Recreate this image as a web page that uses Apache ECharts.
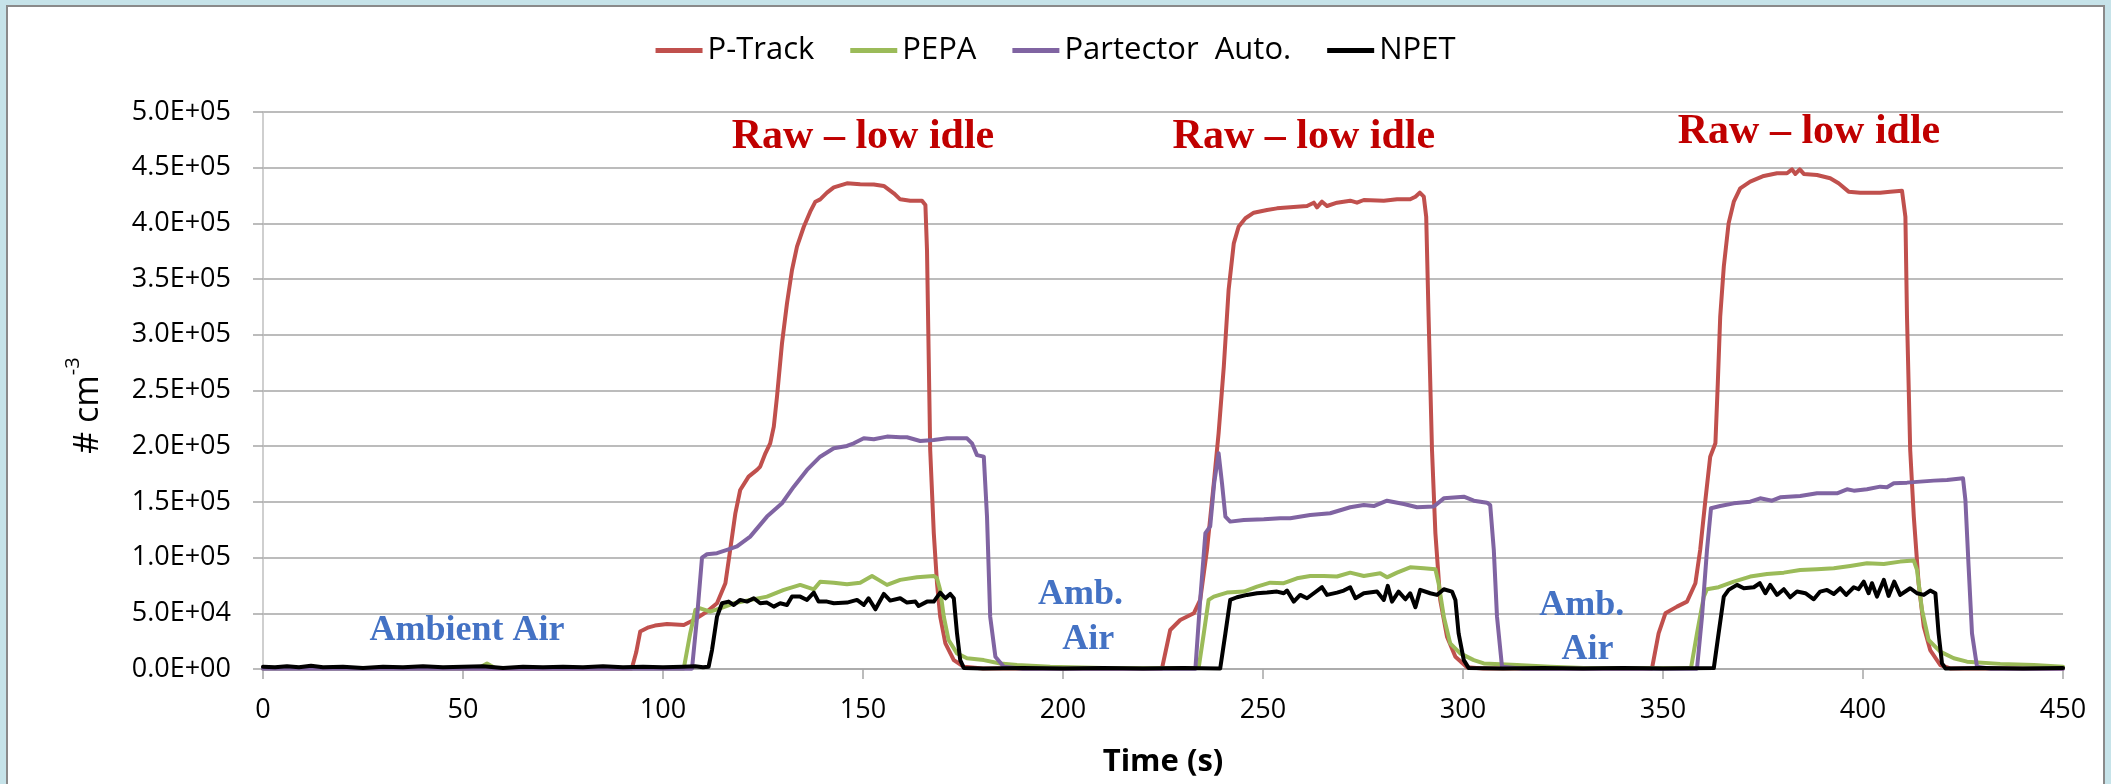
<!DOCTYPE html>
<html>
<head>
<meta charset="utf-8">
<script src="https://cdn.jsdelivr.net/npm/echarts@6/dist/echarts.min.js"></script>
<style>
html,body{margin:0;padding:0;background:#c6e3e9;}
#chart{width:2111px;height:784px;}
</style>
</head>
<body>
<div id="chart"></div>
<script>
// ---- data (time in s, concentration in thousands of # cm^-3) ----
const X_TICKS = [0, 50, 100, 150, 200, 250, 300, 350, 400, 450];
const SERIES_NAMES = ['P-Track', 'PEPA', 'Partector  Auto.', 'NPET'];

const P_TRACK = [[0,1],[30,1],[60,0.5],[92.2,0.5],[93.3,15],[94.3,33.6],[96.4,37.4],[98,39],[101,40.4],[105.2,39.5],[107.7,44],[111,51.5],[113.5,59],[115.6,77],[116.8,107],[118.1,140],[119.3,160.7],[121.4,172.7],[123.5,178.7],[124.3,181.7],[125.6,193.6],[126.8,202.6],[127.7,217.6],[128.5,244.5],[129.75,292.4],[131,328.3],[132.25,358.2],[133.5,379.1],[135.2,397],[136.8,410.5],[138.1,419.5],[139.3,421.6],[141,427.6],[142.7,432.4],[146,436],[149.3,435.1],[152.7,435],[155.2,433.6],[157.7,427],[159.3,421.6],[161.8,420.4],[164.75,420.4],[165.6,416.5],[166,376],[166.4,286.4],[166.8,196.6],[167.7,121.8],[168.5,77],[169.3,47],[170.6,23],[172.7,8],[175.2,2],[180,0.5],[224.75,0.5],[226.8,35],[229.3,44],[232.7,50],[234.3,62],[236,107],[237.7,166.7],[238.9,211.6],[240.2,271.4],[241.4,340.2],[242.7,382.1],[243.9,397],[245.6,404.6],[247.7,409.6],[251,412],[253.5,413.5],[256.8,414.4],[261,415.6],[262.7,418.6],[263.5,414.4],[264.75,419.5],[266,415.6],[268.5,418.6],[271.8,420.4],[273.5,418.6],[275.2,421],[280.2,420.4],[283.5,421.6],[286.8,421.6],[288.1,424],[289.2,427.6],[290.2,424],[290.8,406],[291.4,316],[292.25,196.6],[293.1,121.8],[294.3,62],[296,29],[298.1,11],[301,1.5],[305,0.5],[347.25,0.5],[348.9,32],[350.6,50],[353.5,56],[356,60.5],[358.1,77],[359.3,107],[360.6,151.7],[361.8,190.6],[363.1,202.6],[363.7,256.5],[364.3,316],[365.2,361.2],[366.4,400],[367.7,419.5],[369.3,431.5],[371.8,437.5],[375.2,442.6],[378.5,445],[381,445],[382.25,448.5],[383.1,444.4],[384.2,448.5],[385.2,444.4],[388.5,443.5],[391.8,440.5],[393.9,436],[396.4,428.5],[399.3,427.6],[404.3,427.6],[406.8,428.5],[409.75,429.4],[410.6,406],[411,316],[411.8,196.6],[412.7,136.8],[413.9,77],[415.2,38],[416.8,17],[419.3,3.6],[421.8,0.5],[450,0.5]];

const PEPA = [[0,0.5],[50,0.5],[54,1],[56,5],[58,1],[105.2,0.5],[106.8,32],[108.1,53],[109.3,54.5],[111.8,51.5],[114.3,54.5],[117.7,59],[121.8,62],[126,65],[130.2,71],[134.3,75.5],[137.7,71.5],[139.3,78.4],[142.7,77.5],[146,76],[149.3,77.5],[152.25,83.5],[153.9,80],[156,75.5],[159.3,80],[163.5,82.3],[167.7,83.5],[168.5,81.5],[169.3,71],[170.2,47],[171.4,26],[173.5,14],[176,9.6],[180.2,8],[184.3,5],[188.5,3.6],[196.8,2],[210,1],[233.9,0.8],[235.2,32],[236.4,62],[237.7,65],[241,68.6],[245.2,69.5],[248.5,74],[251.8,77.5],[255.2,77],[258.5,81.4],[261.8,83.5],[265.2,83.5],[268.5,83],[271.8,86.5],[275.2,83.5],[279.3,85.9],[281,82.3],[283.5,86.5],[286.8,91.3],[290.2,90.4],[293.1,89.5],[293.9,77],[295.2,47],[296.8,23],[299.3,14],[302.7,8],[305.2,5],[313.5,3.6],[321.8,2],[330.2,1],[357,0.8],[358.5,32],[360.2,65],[361,71.6],[363.9,73.4],[367.7,78.4],[371.8,83],[376,85.3],[380.2,86.5],[384.3,88.9],[388.5,89.5],[392.7,90.4],[396.8,92.5],[401,94.9],[405.2,94.3],[409.3,96.4],[412.7,97.3],[413.5,88.9],[414.75,53],[416.4,26],[419.3,15.6],[422.7,9.6],[426,6.6],[434.3,4.6],[442.7,3.6],[450,2]];

const PARTECTOR = [[0,0.3],[107.25,0.3],[108.5,46],[109.75,100],[111,103],[113.5,104],[116,107],[118.5,110],[121.8,118.8],[126,136.8],[129.75,148.8],[132.7,163.7],[136,178.7],[139.3,190.6],[142.7,198.1],[146,200.2],[147.7,202.6],[150.2,207.1],[152.7,206.2],[156,208.6],[159.3,208],[161,208],[164.3,204.7],[167.7,205.6],[171,207.1],[176,207.1],[177.25,202.6],[178.5,192],[180.2,190.6],[181,137],[181.8,47],[183.1,11],[185.2,2],[190,0.3],[233.1,0.3],[234.3,62],[235.6,122],[236.8,128],[237.8,167],[238.9,193.6],[239.75,166.7],[240.6,136.8],[241.8,132.3],[245.2,133.8],[250.2,134.4],[254.3,135.3],[256.8,135.3],[261.8,138.3],[266.8,139.8],[271.8,145.2],[275.2,147.2],[277.7,146.3],[281,151.1],[285.2,148.1],[288.5,145.2],[292.7,145.8],[295.2,153.2],[300.2,154.7],[302.7,151.1],[306,149.3],[306.8,147.2],[307.7,107],[308.5,47],[309.75,2],[315,0.3],[358.5,0.3],[359.75,47],[361,107],[362,144.3],[364.3,146.3],[367.7,148.7],[371.8,150.2],[374.3,153.2],[377.25,151.1],[379.3,154.1],[384.3,155.3],[388.5,157.7],[393.5,157.7],[396,161.3],[397.7,160.1],[401,161.3],[404.3,163.7],[406,163.1],[407.7,166.7],[411,167.3],[414.3,168.2],[417.7,169.1],[421,169.7],[422.7,170.3],[425,171.2],[425.6,151.7],[426.4,92],[427.25,32],[428.5,2],[432,0.3],[450,0.3]];

const NPET = [[0,2],[3,1.5],[6,2.5],[9,1.5],[12,3],[15,1.5],[20,2],[25,1],[30,2],[35,1.5],[40,2.5],[45,1.5],[50,2],[55,2.5],[60,1],[65,2],[70,1.5],[75,2],[80,1.5],[85,2.5],[90,1.5],[95,2],[100,1.5],[105,2],[108,2.5],[110,1.5],[111.4,2],[112.25,17],[113.5,47],[114.75,59],[116.4,60.5],[117.7,57.5],[119.3,62],[121,60.5],[122.7,63.5],[124.3,59],[126,59.6],[127.7,56],[129.3,59],[131,57.5],[132.25,65],[134.3,65],[136,62],[137.7,68.6],[138.9,60.5],[141,60.5],[142.7,59],[146,59.6],[148.5,62],[150.2,57.5],[151.4,63.5],[153.1,53.6],[155.2,67.4],[156.8,61.4],[159.3,63.5],[161,59.6],[163.1,60.5],[163.9,56.6],[166,60.5],[167.7,60.5],[169.3,68.6],[170.6,63.5],[171.8,67.4],[172.7,63.5],[173.5,32],[174.3,8],[175.2,1],[180,0.5],[190,1],[200,0.5],[210,1],[220,0.5],[230,1],[239.3,0.5],[240.6,32],[241.8,62],[243.5,64.4],[246,66.5],[248.5,68],[251,68.6],[253.5,69.5],[255.2,68],[256,70.4],[257.7,60.5],[259.3,66.5],[261,63.5],[262.7,68],[264.75,73.4],[266,66.5],[268.5,68.6],[270.2,70.4],[271.8,73.4],[273.1,63.5],[275.2,68],[278.5,69.5],[280.2,62],[281.2,74.6],[282.25,60.5],[283.9,69.5],[285.6,62.6],[286.8,68],[288.1,55.4],[289.3,71],[291.8,68],[293.5,66.5],[295.2,71.6],[297.25,69.5],[298.1,62],[298.9,32],[300.2,8],[301.4,1],[310,0.5],[320,1],[330,0.5],[340,1],[350,0.5],[362.7,0.8],[363.9,32],[365.2,65],[366.4,71],[368.5,75.5],[370.2,72.5],[372.7,73.4],[374.2,77],[375.6,68],[376.8,75.5],[378.5,66.5],[380.2,71.6],[381.8,64.4],[383.5,69.5],[385.6,68],[387.7,62.6],[389.3,69.5],[391,71],[392.7,67.4],[394.3,72.5],[395.8,66.5],[397.7,73.4],[398.9,71.6],[400.2,78.4],[401.4,68],[402.25,77],[403.5,65],[405.2,80],[406.4,65.6],[407.8,78.4],[409.3,66.5],[411.8,72.5],[413.5,68],[415.2,66.5],[416.8,70.4],[418.1,68],[418.9,32],[419.75,5],[420.6,0.5],[430,1],[440,0.5],[450,1]];

// annotations: [text, time (s), value (thousands), kind]
const ANNOTATIONS = [
  ['Raw – low idle', 150, 477, 'raw'],
  ['Raw – low idle', 260.2, 477, 'raw'],
  ['Raw – low idle', 386.5, 481.6, 'raw'],
  ['Ambient Air', 51, 34.1, 'amb'],
  ['Amb.', 204.4, 66.4, 'amb'],
  ['Air', 206.3, 26, 'amb'],
  ['Amb.', 329.7, 56.6, 'amb'],
  ['Air', 331.1, 17.1, 'amb']
];

const UNIT = 1000;
const COLORS = ['#c0504d', '#9bbb59', '#8064a2', '#000000'];
const SANS = '"Open Sans", "Noto Sans", sans-serif';
const SERIF = '"Liberation Serif", "DejaVu Serif", serif';

function sci(v) {
  const s = v.toExponential(1).toUpperCase();
  return s.replace(/E([+-])(\d)$/, 'E$10$2');
}
const toSeries = arr => arr.map(p => [p[0], p[1] * UNIT]);

const chart = echarts.init(document.getElementById('chart'), null, {renderer: 'canvas'});

const dataSets = [P_TRACK, PEPA, PARTECTOR, NPET];
const option = {
  animation: false,
  backgroundColor: '#c6e3e9',
  graphic: [{
    type: 'rect', z: -10, silent: true,
    shape: {x: 7, y: 6, width: 2097, height: 800},
    style: {fill: '#ffffff', stroke: '#8a8a8a', lineWidth: 2}
  }],
  legend: {
    top: 30, left: 'center',
    icon: 'rect', itemWidth: 47, itemHeight: 5, itemGap: 36,
    textStyle: {fontFamily: SANS, fontSize: 31, color: '#000'},
    data: SERIES_NAMES
  },
  grid: {left: 263, right: 48, top: 112, bottom: 115, containLabel: false},
  xAxis: {
    type: 'value', min: 0, max: 450, interval: 50,
    name: 'Time (s)', nameLocation: 'middle', nameGap: 78,
    nameTextStyle: {fontFamily: SANS, fontSize: 31, fontWeight: 'bold', color: '#000'},
    axisLine: {show: true, lineStyle: {color: '#a6a6a6', width: 1.5}},
    axisTick: {show: true, length: 10, lineStyle: {color: '#a6a6a6', width: 1.5}},
    axisLabel: {fontFamily: SANS, fontSize: 27, color: '#000', margin: 28,
      formatter: v => X_TICKS.includes(v) ? String(v) : ''},
    splitLine: {show: false}
  },
  yAxis: {
    type: 'value', min: 0, max: 500 * UNIT, interval: 50 * UNIT,
    name: '{a|# cm}{s|-3}', nameLocation: 'middle', nameGap: 158, nameRotate: 90,
    nameTextStyle: {
      fontFamily: SANS, color: '#000', padding: [0, 30, 0, 0],
      rich: {
        a: {fontFamily: SANS, fontSize: 34, color: '#000', lineHeight: 42, verticalAlign: 'bottom'},
        s: {fontFamily: SANS, fontSize: 20, color: '#000', lineHeight: 22, verticalAlign: 'top'}
      }
    },
    axisLine: {show: true, lineStyle: {color: '#bfbfbf', width: 1.5}},
    axisTick: {show: true, length: 10, lineStyle: {color: '#a6a6a6', width: 1.5}},
    axisLabel: {fontFamily: SANS, fontSize: 27, color: '#000', margin: 32, formatter: sci},
    splitLine: {show: true, lineStyle: {color: '#a6a6a6', width: 1.5}}
  },
  series: dataSets.map((d, i) => ({
    name: SERIES_NAMES[i], type: 'line', data: toSeries(d),
    showSymbol: false, symbol: 'none', smooth: false,
    lineStyle: {color: COLORS[i], width: 4, join: 'round', cap: 'round'},
    itemStyle: {color: COLORS[i]},
    z: 2 + i
  }))
};
chart.setOption(option);

// place annotation texts at their data positions
const texts = ANNOTATIONS.map(([txt, t, v, kind]) => {
  const p = chart.convertToPixel({gridIndex: 0}, [t, v * UNIT]);
  const raw = kind === 'raw';
  return {
    type: 'text', x: p[0], y: p[1], z: 50, silent: true,
    style: {
      text: txt, fill: raw ? '#c00000' : '#4472c4',
      font: 'bold ' + (raw ? 42 : 36) + 'px ' + SERIF,
      align: 'center', verticalAlign: 'middle'
    }
  };
});
chart.setOption({graphic: option.graphic.concat(texts)});
</script>
</body>
</html>
